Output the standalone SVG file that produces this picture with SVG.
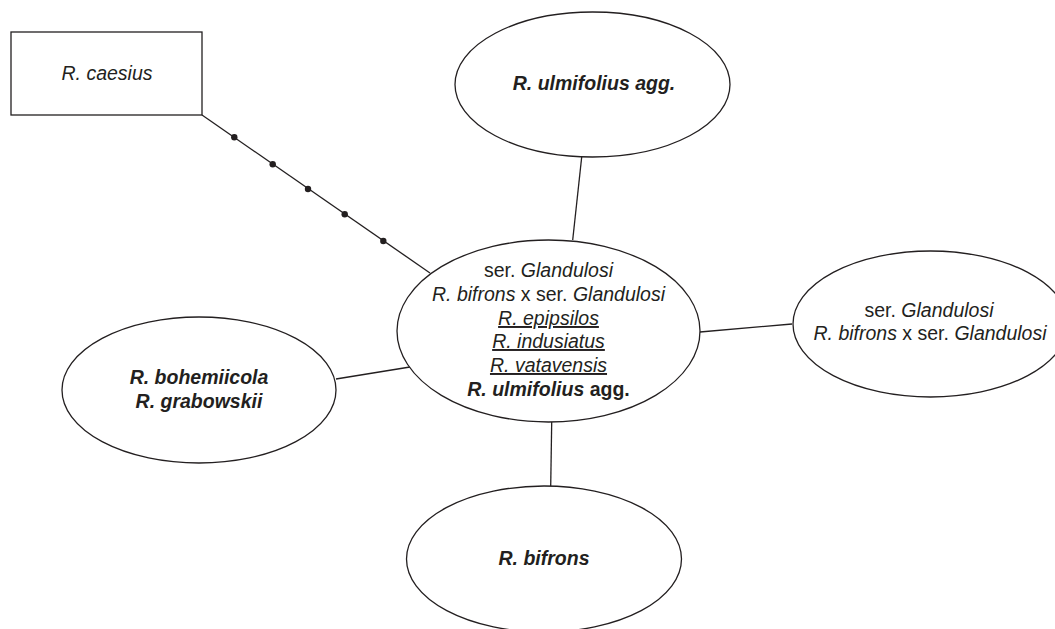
<svg xmlns="http://www.w3.org/2000/svg" width="1055" height="629" viewBox="0 0 1055 629">
  <style>
    .shape { fill: #ffffff; stroke: #231f20; stroke-width: 1.3; }
    .edge { stroke: #231f20; stroke-width: 1.3; fill: none; }
    .dot { fill: #231f20; }
    text { font-family: "Liberation Sans", Arial, sans-serif; font-size: 19.5px; fill: #231f20; text-anchor: middle; }
    .i { font-style: italic; }
    .b { font-weight: bold; }
    .u { text-decoration: underline; }
  </style>
  <rect width="1055" height="629" fill="#ffffff"/>
  <g id="connectors">
    <line class="edge" x1="202" y1="115" x2="430" y2="273"/>
    <circle class="dot" cx="234.3" cy="137.3" r="3.2"/>
    <circle class="dot" cx="272.7" cy="164.3" r="3.2"/>
    <circle class="dot" cx="308" cy="189" r="3.2"/>
    <circle class="dot" cx="344.7" cy="214.3" r="3.2"/>
    <circle class="dot" cx="383.3" cy="241" r="3.2"/>
    <line class="edge" x1="581.7" y1="157" x2="572.7" y2="240"/>
    <line class="edge" x1="551.7" y1="422" x2="550.7" y2="486"/>
    <line class="edge" x1="700" y1="332" x2="792" y2="324"/>
    <line class="edge" x1="336" y1="379" x2="410" y2="367"/>
  </g>
  <g id="node-caesius">
    <rect class="shape" x="11" y="32" width="191" height="83"/>
    <text x="107" y="80" class="i">R. caesius</text>
  </g>
  <g id="node-ulmifolius">
    <ellipse class="shape" cx="592.5" cy="84.5" rx="137.5" ry="72.5"/>
    <text x="594" y="90" class="b i">R. ulmifolius agg.</text>
  </g>
  <g id="node-center">
    <ellipse class="shape" cx="548.5" cy="331" rx="151.5" ry="91"/>
    <text x="548.5" y="277">ser. <tspan class="i">Glandulosi</tspan></text>
    <text x="548.5" y="301"><tspan class="i">R. bifrons</tspan> x ser. <tspan class="i">Glandulosi</tspan></text>
    <text x="548.5" y="325" class="i u">R. epipsilos</text>
    <text x="548.5" y="348" class="i u">R. indusiatus</text>
    <text x="548.5" y="372" class="i u">R. vatavensis</text>
    <text x="548.5" y="396" class="b"><tspan class="i">R. ulmifolius</tspan> agg.</text>
  </g>
  <g id="node-glandulosi">
    <ellipse class="shape" cx="930.5" cy="324" rx="137.5" ry="73"/>
    <text x="929" y="317">ser. <tspan class="i">Glandulosi</tspan></text>
    <text x="930" y="340"><tspan class="i">R. bifrons</tspan> x ser. <tspan class="i">Glandulosi</tspan></text>
  </g>
  <g id="node-bohemiicola">
    <ellipse class="shape" cx="199" cy="390" rx="137" ry="73"/>
    <text x="199" y="384" class="b i">R. bohemiicola</text>
    <text x="199" y="408" class="b i">R. grabowskii</text>
  </g>
  <g id="node-bifrons">
    <ellipse class="shape" cx="544" cy="559" rx="137.5" ry="73"/>
    <text x="544" y="565" class="b i">R. bifrons</text>
  </g>
</svg>
